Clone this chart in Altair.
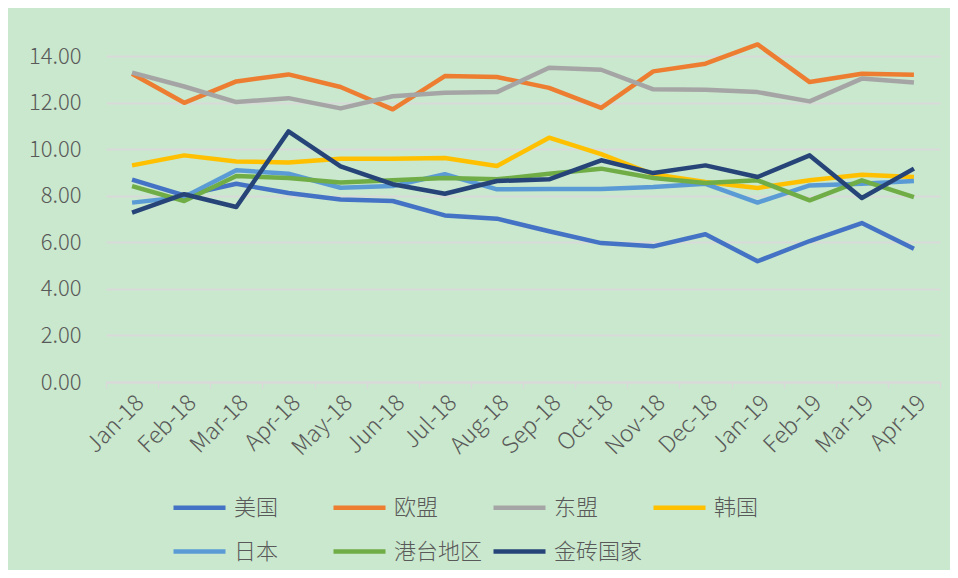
import altair as alt
import pandas as pd

months = ["Jan-18", "Feb-18", "Mar-18", "Apr-18", "May-18", "Jun-18", "Jul-18", "Aug-18",
          "Sep-18", "Oct-18", "Nov-18", "Dec-18", "Jan-19", "Feb-19", "Mar-19", "Apr-19"]

series_names = ["美国", "欧盟", "东盟", "韩国", "日本", "港台地区", "金砖国家"]
series_colors = ["#4472C4", "#ED7D31", "#A5A5A5", "#FFC000", "#5B9BD5", "#70AD47", "#264478"]

us = [8.70, 8.02, 8.52, 8.12, 7.84, 7.78, 7.16, 7.02, 6.48, 5.97, 5.83, 6.35, 5.19, 6.06, 6.83, 5.73]
eu = [13.25, 12.00, 12.92, 13.22, 12.68, 11.72, 13.15, 13.11, 12.64, 11.78, 13.35, 13.68, 14.51, 12.89, 13.25, 13.21]
asean = [13.30, 12.70, 12.03, 12.20, 11.76, 12.28, 12.43, 12.46, 13.51, 13.42, 12.58, 12.56, 12.46, 12.06, 13.04, 12.87]
korea = [9.31, 9.74, 9.48, 9.43, 9.60, 9.60, 9.63, 9.28, 10.50, 9.79, 8.93, 8.60, 8.34, 8.67, 8.91, 8.81]
japan = [7.71, 7.95, 9.10, 8.95, 8.35, 8.42, 8.93, 8.28, 8.30, 8.30, 8.38, 8.52, 7.71, 8.45, 8.52, 8.64]
hktw = [8.42, 7.78, 8.85, 8.77, 8.57, 8.67, 8.77, 8.71, 8.95, 9.17, 8.77, 8.55, 8.67, 7.81, 8.67, 7.95]
brics = [7.28, 8.07, 7.52, 10.77, 9.27, 8.50, 8.09, 8.64, 8.71, 9.53, 8.98, 9.31, 8.81, 9.74, 7.91, 9.17]

all_series = [us, eu, asean, korea, japan, hktw, brics]

rows = []
for si, (name, vals) in enumerate(zip(series_names, all_series)):
    for m, v in zip(months, vals):
        rows.append({"月份": m, "地区": name, "值": v, "序": si})
df = pd.DataFrame(rows)

FONT = "Noto Sans CJK SC"
TXT = "#595959"

chart = alt.Chart(df).mark_line(strokeWidth=4.5, strokeJoin="round").encode(
    x=alt.X("月份:N", sort=months, bandPosition=0.5,
            scale=alt.Scale(type="band", paddingInner=0, paddingOuter=0),
            axis=alt.Axis(title=None, labelAngle=-45, labelFontSize=23, labelColor=TXT,
                          labelFont=FONT, labelFontWeight=300, tickBand="extent", tickSize=6,
                          tickColor="#D9D9D9", tickWidth=1.5, domainColor="#D9D9D9",
                          domainWidth=2, labelPadding=3, grid=False)),
    y=alt.Y("值:Q", scale=alt.Scale(domain=[0, 15], nice=False),
            axis=alt.Axis(title=None, values=[0, 2, 4, 6, 8, 10, 12, 14], format=".2f",
                          labelFontSize=22, labelColor=TXT, labelFont=FONT, labelFontWeight=300,
                          labelPadding=25, ticks=False, domain=False,
                          gridColor="#D9D9D9", gridWidth=2)),
    color=alt.Color("地区:N", sort=series_names,
                    scale=alt.Scale(domain=series_names, range=series_colors),
                    legend=alt.Legend(title=None, orient="none", legendX=65, legendY=446,
                                      columns=4, direction="horizontal", symbolType="stroke",
                                      symbolSize=2704, symbolStrokeWidth=4.5,
                                      labelFontSize=22, labelFont=FONT, labelFontWeight=300,
                                      labelColor=TXT, labelOffset=6, columnPadding=1,
                                      rowPadding=4, gridAlign="all")),
    order=alt.Order("序:Q"),
    detail="地区:N",
).properties(
    width=834, height=349,
    background="#C9E8CD",
    padding={"left": 98, "top": 25, "right": 10, "bottom": 188},
    autosize=alt.AutoSizeParams(type="none"),
).configure_view(stroke=None)

chart.save("out.html", embed_options={"renderer": "svg", "actions": False})
